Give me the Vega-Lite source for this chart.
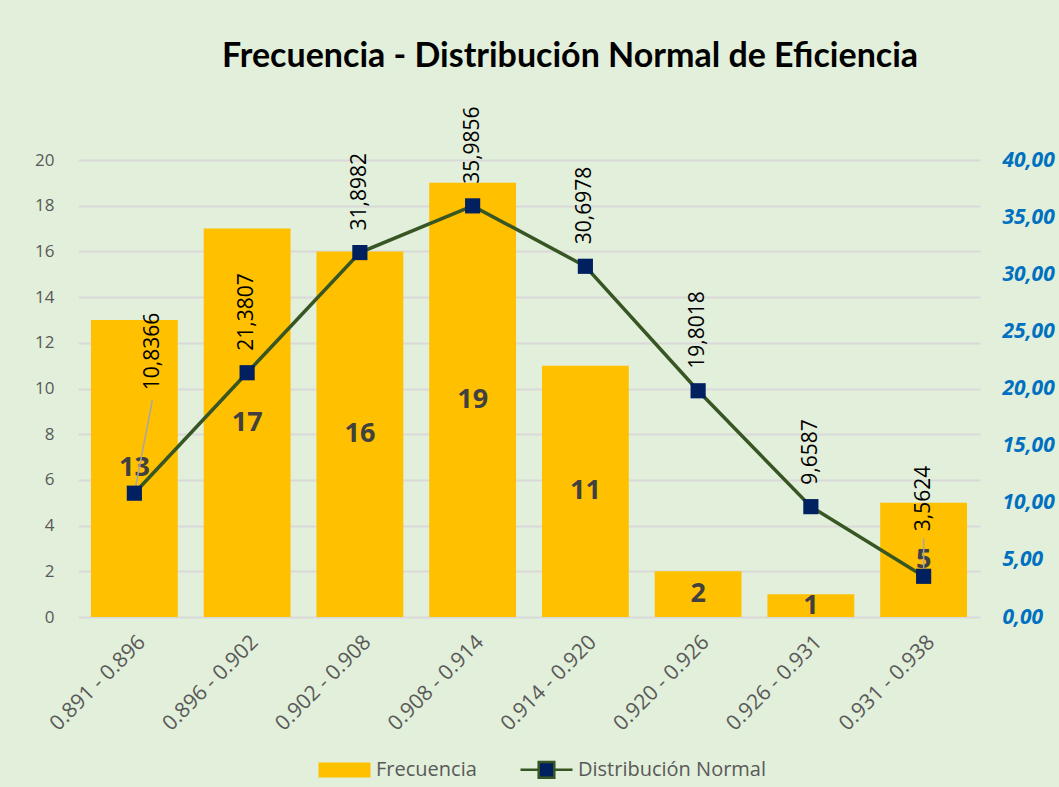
{
  "$schema": "https://vega.github.io/schema/vega-lite/v6.json",
  "width": 902,
  "height": 457,
  "autosize": {"type": "none"},
  "padding": {"left": 78, "top": 160, "right": 79, "bottom": 170},
  "background": "#E2EFDA",
  "title": {
    "text": "Frecuencia - Distribución Normal de Eficiencia",
    "font": "Lato",
    "fontSize": 34,
    "fontWeight": "bold",
    "color": "#000000",
    "anchor": "middle",
    "frame": "group",
    "dx": 41,
    "offset": 32
  },
  "config": {
    "view": {"stroke": null},
    "axis": {"labelFont": "Open Sans", "titleFont": "Open Sans"}
  },
  "data": {
    "values": [
      {"bin": "0.891 - 0.896", "freq": 13, "dist": 10.8366},
      {"bin": "0.896 - 0.902", "freq": 17, "dist": 21.3807},
      {"bin": "0.902 - 0.908", "freq": 16, "dist": 31.8982},
      {"bin": "0.908 - 0.914", "freq": 19, "dist": 35.9856},
      {"bin": "0.914 - 0.920", "freq": 11, "dist": 30.6978},
      {"bin": "0.920 - 0.926", "freq": 2, "dist": 19.8018},
      {"bin": "0.926 - 0.931", "freq": 1, "dist": 9.6587},
      {"bin": "0.931 - 0.938", "freq": 5, "dist": 3.5624}
    ]
  },
  "encoding": {
    "x": {
      "field": "bin",
      "type": "nominal",
      "sort": null,
      "scale": {"paddingInner": 0.23, "paddingOuter": 0.115},
      "axis": {
        "title": null,
        "labelAngle": -45,
        "labelFontSize": 21,
        "labelColor": "#595959",
        "ticks": false,
        "domain": false,
        "labelPadding": 14
      }
    }
  },
  "layer": [
    {
      "encoding": {
        "y": {
          "field": "freq",
          "type": "quantitative",
          "scale": {"domain": [0, 20]},
          "axis": {
            "title": null,
            "values": [0, 2, 4, 6, 8, 10, 12, 14, 16, 18, 20],
            "labelFontSize": 17,
            "labelColor": "#595959",
            "ticks": false,
            "domain": false,
            "gridColor": "#D9D9D9",
            "gridWidth": 2,
            "labelPadding": 24
          }
        }
      },
      "layer": [
        {
          "mark": {"type": "bar", "color": "#FFC000"},
          "encoding": {
            "color": {
              "datum": "Frecuencia",
              "type": "nominal",
              "scale": {"domain": ["Frecuencia", "Distribución Normal"], "range": ["#FFC000", "#002060"]},
              "legend": {
                "title": null,
                "orient": "none",
                "legendX": 239,
                "legendY": 582,
                "direction": "horizontal",
                "symbolSize": 2704,
                "labelFontSize": 20,
                "labelFont": "Open Sans",
                "labelColor": "#595959",
                "labelOffset": 4,
                "labelLimit": 400,
                "columnPadding": 38,
                "encode": {
                  "symbols": {
                    "update": {
                      "shape": {"signal": "datum.value === 'Frecuencia' ? 'M-1,-0.29H1V0.29H-1Z' : 'M-1,0H-0.3M0.3,0H1M-0.3,-0.3H0.3V0.3H-0.3Z'"},
                      "stroke": {"signal": "datum.value === 'Frecuencia' ? 'transparent' : '#375623'"},
                      "strokeWidth": {"value": 2.5},
                      "opacity": {"value": 1},
                      "fillOpacity": {"value": 1}
                    }
                  }
                }
              }
            }
          }
        },
        {
          "transform": [{"calculate": "datum.freq / 2", "as": "mid"}],
          "mark": {"type": "text", "font": "Open Sans", "fontSize": 27, "fontWeight": "bold", "color": "#404040", "baseline": "middle"},
          "encoding": {
            "y": {"field": "mid", "type": "quantitative"},
            "text": {"field": "freq", "type": "quantitative"}
          }
        }
      ]
    },
    {
      "encoding": {
        "y": {
          "field": "dist",
          "type": "quantitative",
          "scale": {"domain": [0, 40]},
          "axis": {
            "title": null,
            "orient": "right",
            "values": [0, 5, 10, 15, 20, 25, 30, 35, 40],
            "labelExpr": "replace(format(datum.value, '.2f'), '.', ',')",
            "labelFont": "Open Sans",
            "labelFontSize": 21,
            "labelFontWeight": "bold",
            "labelFontStyle": "italic",
            "labelColor": "#0070C0",
            "ticks": false,
            "domain": false,
            "grid": false,
            "labelPadding": 22
          }
        }
      },
      "layer": [
        {
          "transform": [{"filter": "datum.bin === '0.891 - 0.896'"}],
          "mark": {"type": "rule", "color": "#A6A6A6", "strokeWidth": 1.5, "x2Offset": 18, "y2Offset": -93},
          "encoding": {
            "x2": {"field": "bin"},
            "y2": {"field": "dist"}
          }
        },
        {
          "transform": [{"filter": "datum.bin === '0.931 - 0.938'"}],
          "mark": {"type": "rule", "color": "#A6A6A6", "strokeWidth": 1.5, "y2Offset": -38},
          "encoding": {
            "y2": {"field": "dist"}
          }
        },
        {
          "mark": {"type": "line", "color": "#375623", "strokeWidth": 3.5},
          "encoding": {}
        },
        {
          "mark": {"type": "square", "color": "#002060", "filled": true, "size": 230, "opacity": 1},
          "encoding": {}
        },
        {
          "transform": [
            {"filter": "datum.bin !== '0.891 - 0.896' && datum.bin !== '0.931 - 0.938'"},
            {"calculate": "replace(format(datum.dist, '.4f'), '.', ',')", "as": "lbl"}
          ],
          "mark": {"type": "text", "font": "Open Sans", "fontSize": 21, "color": "#000000", "angle": -90, "align": "left", "baseline": "middle", "dx": 22},
          "encoding": {"text": {"field": "lbl"}}
        },
        {
          "transform": [
            {"filter": "datum.bin === '0.891 - 0.896'"},
            {"calculate": "replace(format(datum.dist, '.4f'), '.', ',')", "as": "lbl"}
          ],
          "mark": {"type": "text", "font": "Open Sans", "fontSize": 21, "color": "#000000", "angle": -90, "align": "left", "baseline": "middle", "dx": 103, "dy": 19},
          "encoding": {"text": {"field": "lbl"}}
        },
        {
          "transform": [
            {"filter": "datum.bin === '0.931 - 0.938'"},
            {"calculate": "replace(format(datum.dist, '.4f'), '.', ',')", "as": "lbl"}
          ],
          "mark": {"type": "text", "font": "Open Sans", "fontSize": 21, "color": "#000000", "angle": -90, "align": "left", "baseline": "middle", "dx": 45},
          "encoding": {"text": {"field": "lbl"}}
        }
      ]
    }
  ],
  "resolve": {"scale": {"y": "independent"}}
}
